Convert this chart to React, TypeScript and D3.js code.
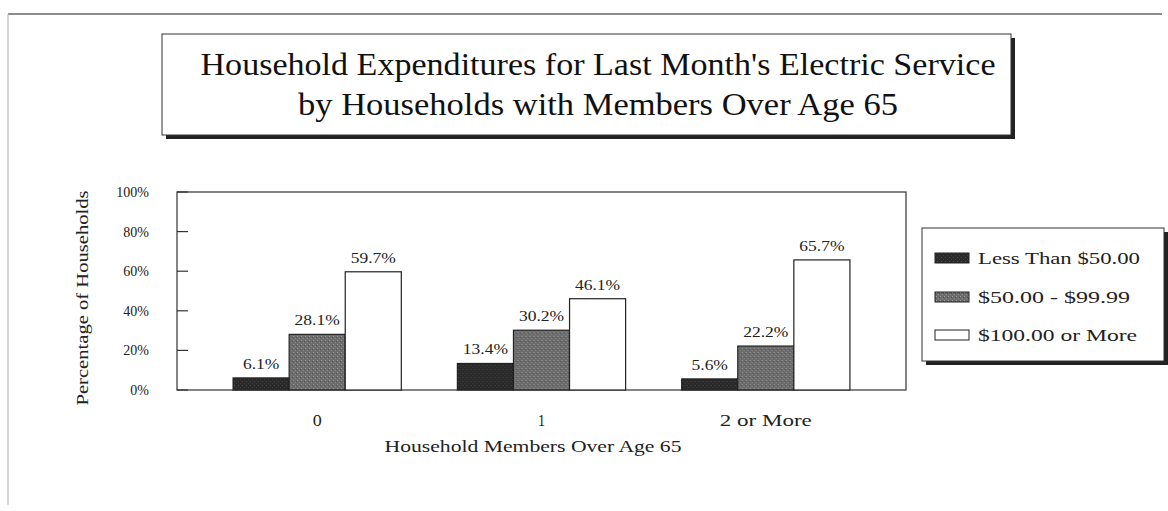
import React from "react";
import * as d3 from "d3";

const categories = ["0", "1", "2 or More"];
const seriesNames = ["Less Than $50.00", "$50.00 - $99.99", "$100.00 or More"];
const lessThan50 = [6.1, 13.4, 5.6];
const from50to99 = [28.1, 30.2, 22.2];
const over100 = [59.7, 46.1, 65.7];
const yTicks = [0, 20, 40, 60, 80, 100];
const titleLines = [
  "Household Expenditures for Last Month's Electric Service",
  "by Households with Members Over Age 65",
];

const W = 1168;
const H = 511;
const FONT = "'Liberation Serif', 'Times New Roman', serif";

export default function App() {
  const plot = { left: 177, right: 906, top: 192, bottom: 390 };
  const x0 = d3
    .scaleBand<string>()
    .domain(categories)
    .range([plot.left, plot.right])
    .paddingInner(0.25)
    .paddingOuter(0.25);
  const x1 = d3
    .scaleBand<string>()
    .domain(seriesNames)
    .range([0, x0.bandwidth()])
    .padding(0);
  const y = d3.scaleLinear().domain([0, 100]).range([plot.bottom, plot.top]);

  const series = [lessThan50, from50to99, over100];
  const fills = ["url(#darkPat)", "url(#midPat)", "#ffffff"];

  const legend = { x: 922, y: 228, w: 242, h: 133 };
  const legendRows = [258, 297, 335];
  const legendWidths = [162, 152, 159];
  const titleWidths = [795, 600];
  const catWidths = [9, 7, 92];

  return (
    <svg width={W} height={H} style={{ position: "absolute", left: 0, top: 0, background: "#fff" }}>
      <defs>
        <pattern id="darkPat" width="4" height="4" patternUnits="userSpaceOnUse">
          <rect width="4" height="4" fill="#2a2a2a" />
          <rect x="1" y="1" width="1" height="1" fill="#4a4a4a" />
          <rect x="3" y="3" width="1" height="1" fill="#3c3c3c" />
        </pattern>
        <pattern id="midPat" width="4" height="4" patternUnits="userSpaceOnUse">
          <rect width="4" height="4" fill="#6c6c6c" />
          <rect x="0" y="0" width="1" height="1" fill="#9a9a9a" />
          <rect x="2" y="2" width="1" height="1" fill="#8a8a8a" />
          <rect x="3" y="1" width="1" height="1" fill="#4e4e4e" />
        </pattern>
      </defs>

      {/* outer page frame */}
      <line x1={8} y1={14} x2={1162} y2={14} stroke="#666" strokeWidth={1.5} />
      <line x1={8} y1={14} x2={8} y2={505} stroke="#bbb" strokeWidth={1.2} />

      {/* title box with shadow */}
      <rect x={166} y={38} width={849} height={101} fill="#222" />
      <rect x={162} y={34} width={849} height={101} fill="#fff" stroke="#333" strokeWidth={1} />
      {titleLines.map((t, i) => (
        <text
          key={i}
          x={598}
          y={75 + i * 40}
          textAnchor="middle"
          fontFamily={FONT}
          fontSize={32}
          fill="#111"
          textLength={titleWidths[i]}
          lengthAdjust="spacingAndGlyphs"
        >
          {t}
        </text>
      ))}

      {/* plot frame */}
      <rect
        x={plot.left}
        y={plot.top}
        width={plot.right - plot.left}
        height={plot.bottom - plot.top}
        fill="none"
        stroke="#333"
        strokeWidth={1.2}
      />

      {/* y ticks */}
      {yTicks.map((t) => (
        <g key={t}>
          <line x1={plot.left} x2={plot.left + 11} y1={y(t)} y2={y(t)} stroke="#333" strokeWidth={1.2} />
          <text
            x={plot.left - 28}
            y={y(t)}
            dy="0.35em"
            textAnchor="end"
            fontFamily={FONT}
            fontSize={14}
            fill="#222"
          >
            {t}%
          </text>
        </g>
      ))}

      {/* bars */}
      {categories.map((c, ci) => (
        <g key={c} transform={`translate(${x0(c)},0)`}>
          {seriesNames.map((s, si) => {
            const v = series[si][ci];
            const bx = x1(s)!;
            return (
              <g key={s}>
                <rect
                  x={bx}
                  y={y(v)}
                  width={x1.bandwidth()}
                  height={y(0) - y(v)}
                  fill={fills[si]}
                  stroke="#222"
                  strokeWidth={1.2}
                />
                <text
                  transform={`translate(${bx + x1.bandwidth() / 2},${y(v) - 9}) scale(1.25,1)`}
                  textAnchor="middle"
                  fontFamily={FONT}
                  fontSize={14}
                  fill="#222"
                >
                  {v.toFixed(1)}%
                </text>
              </g>
            );
          })}
          <text
            x={x0.bandwidth() / 2}
            y={426}
            textAnchor="middle"
            fontFamily={FONT}
            fontSize={16}
            fill="#222"
            textLength={catWidths[ci]}
            lengthAdjust="spacingAndGlyphs"
          >
            {c}
          </text>
        </g>
      ))}

      {/* axis titles */}
      <text
        x={533}
        y={452}
        textAnchor="middle"
        fontFamily={FONT}
        fontSize={16}
        fill="#222"
        textLength={297}
        lengthAdjust="spacingAndGlyphs"
      >
        Household Members Over Age 65
      </text>
      <text
        transform={`translate(88,${(plot.top + plot.bottom) / 2 + 7}) rotate(-90)`}
        textAnchor="middle"
        fontFamily={FONT}
        fontSize={16}
        fill="#222"
        textLength={215}
        lengthAdjust="spacingAndGlyphs"
      >
        Percentage of Households
      </text>

      {/* legend */}
      <rect x={legend.x + 4} y={legend.y + 4} width={legend.w} height={legend.h} fill="#222" />
      <rect x={legend.x} y={legend.y} width={legend.w} height={legend.h} fill="#fff" stroke="#333" strokeWidth={1} />
      {seriesNames.map((s, i) => (
        <g key={s}>
          <rect
            x={935}
            y={legendRows[i] - 5}
            width={34}
            height={10}
            fill={fills[i]}
            stroke="#222"
            strokeWidth={1}
          />
          <text
            x={978}
            y={legendRows[i]}
            dy="0.35em"
            fontFamily={FONT}
            fontSize={16}
            fill="#222"
            textLength={legendWidths[i]}
            lengthAdjust="spacingAndGlyphs"
          >
            {s}
          </text>
        </g>
      ))}
    </svg>
  );
}
